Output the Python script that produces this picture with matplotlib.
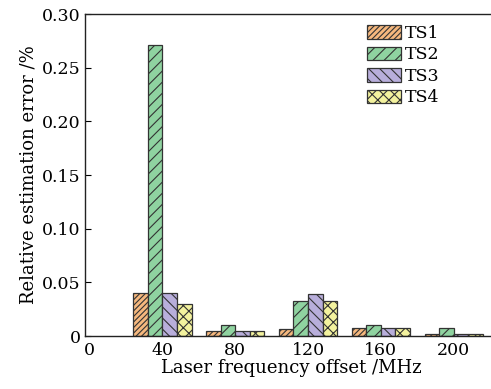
import matplotlib
matplotlib.use("Agg")
import matplotlib.pyplot as plt
import numpy as np

plt.rcParams['font.family'] = ['DejaVu Serif']
plt.rcParams['hatch.linewidth'] = 0.8
plt.rcParams['hatch.color'] = '#333333'

offsets = [40, 80, 120, 160, 200]
series_names = ["TS1", "TS2", "TS3", "TS4"]
ts1 = [0.040, 0.0047, 0.0065, 0.0072, 0.0022]
ts2 = [0.271, 0.010, 0.0326, 0.010, 0.0078]
ts3 = [0.040, 0.0045, 0.039, 0.0072, 0.0015]
ts4 = [0.030, 0.0047, 0.0326, 0.0072, 0.0020]
series = [ts1, ts2, ts3, ts4]
colors = ["#F6B87E", "#8FD3A0", "#B8AEDB", "#F3F29E"]
hatches = ["//////", "///", "\\\\\\", "xxx"]
yticks = [0, 0.05, 0.10, 0.15, 0.20, 0.25, 0.30]
ytick_labels = ["0", "0.05", "0.10", "0.15", "0.20", "0.25", "0.30"]
xticks = [0, 40, 80, 120, 160, 200]

fig = plt.figure(figsize=(4.91, 3.89), dpi=100)
ax = fig.add_axes([0.1731, 0.1362, 0.840, 0.8278])

w = 8.0
x = np.array(offsets, dtype=float)
for i, (vals, name) in enumerate(zip(series, series_names)):
    ax.bar(x + (i - 1.5) * w, vals, width=w, color=colors[i], hatch=hatches[i],
           edgecolor='#333333', linewidth=0.9, label=name)

ax.set_xlim(-2.5, 224)
ax.set_ylim(0, 0.30)
ax.set_yticks(yticks)
ax.set_yticklabels(ytick_labels)
ax.set_xticks(xticks)
ax.tick_params(axis='y', direction='in', length=4, labelsize=12.5, pad=3)
ax.tick_params(axis='x', length=0, labelsize=12.5, pad=4)
for s in ax.spines.values():
    s.set_linewidth(1.0)
    s.set_color('#222222')
ax.spines['right'].set_visible(False)

ax.set_xlabel("Laser frequency offset /MHz", fontsize=13, labelpad=0)
ax.set_ylabel("Relative estimation error /%", fontsize=13, labelpad=3)

leg = ax.legend(loc='upper left', bbox_to_anchor=(0.684, 0.966), frameon=False,
                fontsize=12.5, handlelength=1.95, handleheight=0.8,
                labelspacing=0.26, handletextpad=0.25, borderaxespad=0,
                borderpad=0)

fig.savefig("out.png", dpi=100)
